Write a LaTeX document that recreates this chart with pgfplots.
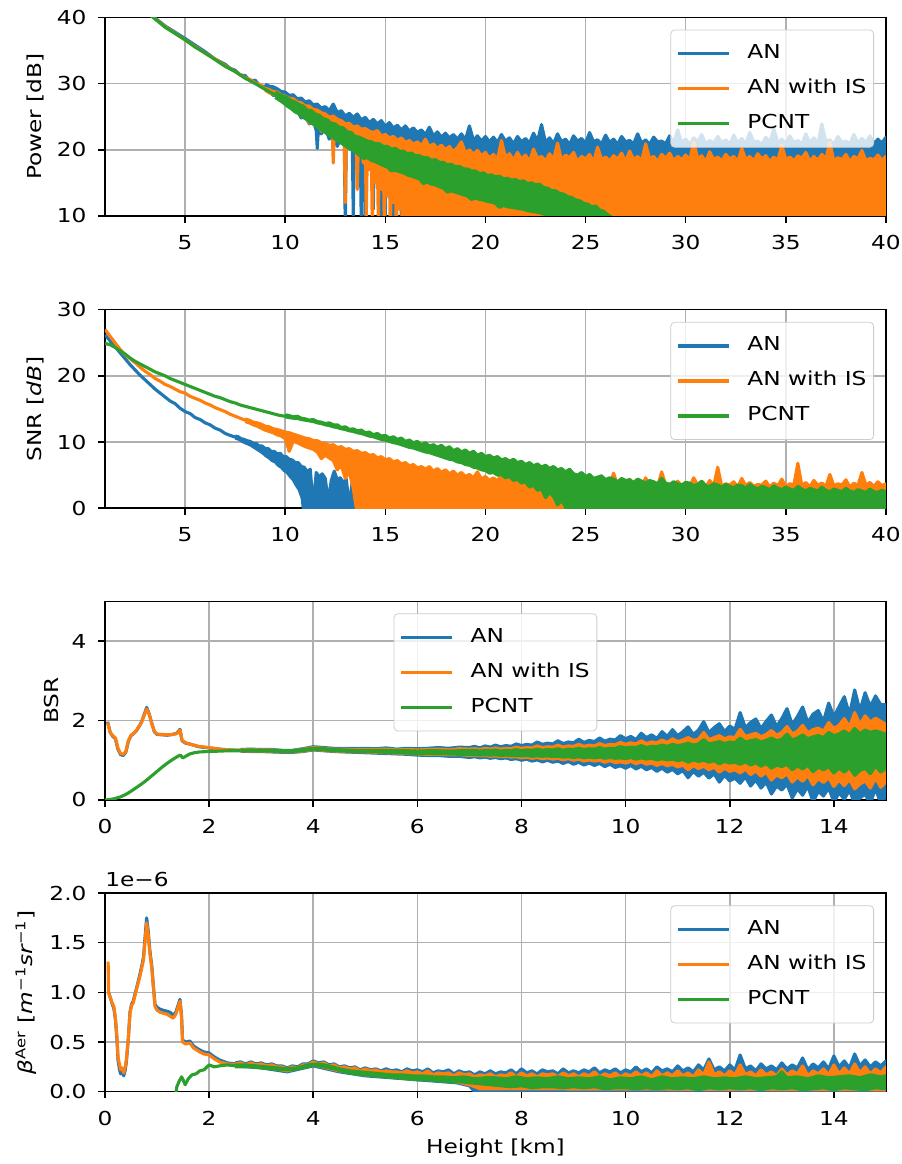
\documentclass[border=0pt]{standalone}
\usepackage{fontspec}
\setmainfont{DejaVu Sans}[FakeStretch=1.21]
\newfontface\itf{DejaVu Sans Oblique}[FakeStretch=1.21]
\usepackage{pgfplots}
\pgfplotsset{compat=1.18}
\definecolor{c0}{HTML}{1F77B4}
\definecolor{c1}{HTML}{FF7F0E}
\definecolor{c2}{HTML}{2CA02C}
\definecolor{gridc}{HTML}{B0B0B0}
\pgfplotsset{
  legend image code/.code={\draw[#1] (0pt,0pt) -- (26.5pt,0pt);},
  pb/.style={c0, line width=1.62pt, line join=round},
  po/.style={c1, line width=1.62pt, line join=round},
  pg/.style={c2, line width=1.62pt, line join=round},
  bb/.style={c0, fill=c0, line width=1.62pt, line join=round, forget plot},
  bo/.style={c1, fill=c1, line width=1.62pt, line join=round, forget plot},
  bg/.style={c2, fill=c2, line width=1.62pt, line join=round, forget plot},
  mpl/.style={
    scale only axis, width=406.1pt, height=103.3pt,
    anchor=south west, enlargelimits=false, clip=true,
    axis line style={black, line width=0.8pt},
    tick align=outside, xtick pos=left, ytick pos=left,
    major tick length=3.5pt,
    every tick/.style={black, line width=0.8pt},
    grid=major, major grid style={gridc, line width=0.8pt},
    /pgf/number format/assume math mode=true,
    ticklabel style={font=\normalsize},
    xticklabel style={yshift=-3pt},
    yticklabel style={xshift=-2.6pt},
    scaled ticks=false,
    legend cell align=left,
    legend style={draw=black!20, fill=white, fill opacity=0.8, text opacity=1, draw opacity=1,
      rounded corners=2pt, inner xsep=2.7pt, inner ysep=4pt, row sep=1.6pt, column sep=8pt,
      nodes={inner xsep=1pt, inner ysep=3.3pt, text height=7.6pt, text depth=2.4pt}},
  },
  tr/.style={legend style={at={(rel axis cs:1,1)}, anchor=north east, xshift=-6.2pt, yshift=-6.4pt}},
}
\begin{document}
\begin{tikzpicture}
\useasboundingbox (0,0) rectangle (469pt,-605.3pt);

% ---------------- Power
\begin{axis}[mpl, tr, at={(54.6pt,-112.3pt)}, xmin=1, xmax=40, ymin=10, ymax=40,
  xtick={5,10,...,40}, ytick={10,20,30,40}, ylabel={Power [dB]}]
\addplot[pb] table[row sep=\\] {x y\\1 47.2\\2 44.1\\3 41.1\\4 38.7\\5 36.8\\5.5 35.8\\6 34.8\\6.5 33.7\\7 32.9\\7.25 32.3\\7.5 32.0\\7.75 31.3\\8 31.2\\8.25 30.4\\8.5 30.5\\8.75 29.6\\9 29.6\\};
\addlegendentry{AN}
\addplot[bb] table[row sep=\\] {x y\\9.0 29.9\\9.2 29.6\\9.4 29.5\\9.6 29.2\\9.8 28.8\\10.0 28.7\\10.2 28.2\\10.4 28.3\\10.6 27.7\\10.8 27.8\\11.0 27.2\\11.2 27.4\\11.4 26.8\\11.6 26.9\\11.8 26.3\\12.0 26.5\\12.2 25.9\\12.4 26.9\\12.6 25.6\\12.8 25.9\\13.0 25.1\\13.2 25.5\\13.4 24.9\\13.6 25.4\\13.8 24.5\\14.0 24.9\\14.2 24.1\\14.4 24.6\\14.6 23.9\\14.8 24.4\\15.0 23.5\\15.2 24.1\\15.4 23.3\\15.6 23.7\\15.8 23.0\\16.0 23.6\\16.2 22.8\\16.4 23.3\\16.6 22.6\\16.8 23.0\\17.0 22.3\\17.2 23.4\\17.4 22.1\\17.6 22.7\\17.8 21.9\\18.0 22.5\\18.2 21.8\\18.4 22.3\\18.6 21.6\\18.8 22.4\\19.0 21.5\\19.2 23.6\\19.4 21.4\\19.6 22.1\\19.8 21.3\\20.0 22.0\\20.2 21.2\\20.4 21.9\\20.6 21.1\\20.8 22.3\\21.0 21.3\\21.2 21.8\\21.4 20.9\\21.6 22.0\\21.8 21.2\\22.0 21.7\\22.2 21.0\\22.4 22.5\\22.6 21.3\\22.8 23.8\\23.0 21.1\\23.2 21.8\\23.4 20.9\\23.6 22.4\\23.8 21.2\\24.0 21.6\\24.2 20.8\\24.4 22.1\\24.6 21.3\\24.8 21.7\\25.0 21.0\\25.2 22.6\\25.4 21.2\\25.6 21.5\\25.8 20.9\\26.0 22.2\\26.2 21.1\\26.4 21.6\\26.6 20.8\\26.8 22.0\\27.0 21.2\\27.2 21.4\\27.4 20.9\\27.6 22.4\\27.8 21.0\\28.0 21.5\\28.2 20.8\\28.4 21.9\\28.6 21.2\\28.8 21.3\\29.0 20.9\\29.2 22.1\\29.4 21.0\\29.6 23.0\\29.8 21.1\\30.0 21.6\\30.2 20.8\\30.4 21.8\\30.6 21.2\\30.8 22.3\\31.0 20.9\\31.2 21.4\\31.4 21.0\\31.6 22.0\\31.8 21.1\\32.0 21.5\\32.2 20.8\\32.4 22.2\\32.6 21.0\\32.8 21.7\\33.0 20.9\\33.2 22.6\\33.4 21.2\\33.6 21.3\\33.8 20.8\\34.0 21.9\\34.2 21.1\\34.4 23.2\\34.6 21.0\\34.8 21.6\\35.0 20.9\\35.2 22.1\\35.4 21.1\\35.6 21.4\\35.8 20.8\\36.0 22.4\\36.2 21.0\\36.4 21.8\\36.6 20.9\\36.8 23.9\\37.0 21.2\\37.2 21.5\\37.4 20.8\\37.6 22.0\\37.8 21.1\\38.0 21.3\\38.2 20.9\\38.4 22.3\\38.6 21.0\\38.8 21.7\\39.0 21.1\\39.2 22.1\\39.4 20.9\\39.6 21.6\\39.8 21.0\\40.0 21.9\\
40.0 17\\20.2 17\\20.0 17.5\\19.8 18.0\\19.6 17.2\\19.45 17.6\\19.4 15.0\\19.35 17.6\\19.2 18.3\\19.0 16.8\\18.85 17.5\\18.8 12.0\\18.75 17.5\\18.6 17.9\\18.4 17.5\\18.25 17.6\\18.2 15.0\\18.15 17.6\\18.0 18.2\\17.85 17.8\\17.8 8.0\\17.75 17.8\\17.6 17.4\\17.45 17.5\\17.4 12.0\\17.35 17.6\\17.2 18.0\\17.05 18.0\\17.0 9.0\\16.95 18.0\\16.8 18.5\\16.65 18.2\\16.6 11.0\\16.55 18.2\\16.4 18.2\\16.25 18.4\\16.2 8.0\\16.15 18.4\\16.0 17.9\\15.85 18.0\\15.8 9.5\\15.75 18.0\\15.6 18.6\\15.45 18.8\\15.4 8.0\\15.35 18.8\\15.2 18.9\\15.05 19.0\\15.0 10.0\\14.95 19.0\\14.85 19.2\\14.8 9.0\\14.75 19.2\\14.6 19.4\\14.45 19.6\\14.4 11.0\\14.35 19.6\\14.2 19.8\\14.05 19.9\\14.0 9.5\\13.95 20.0\\13.85 20.2\\13.8 8.5\\13.75 20.2\\13.6 20.6\\13.45 20.8\\13.4 10.0\\13.35 20.9\\13.2 21.2\\13.05 21.4\\13.0 8.0\\12.95 21.5\\12.8 22.0\\12.6 20.5\\12.4 22.6\\12.2 21.6\\12.0 23.4\\11.8 22.4\\11.65 22.8\\11.6 20.2\\11.55 22.9\\11.4 24.4\\11.2 23.9\\11.0 25.2\\10.8 24.8\\10.6 25.9\\10.4 26.2\\10.2 26.8\\10.0 27.4\\9.8 27.6\\9.6 28.3\\9.4 28.2\\9.2 28.9\\9.0 29.3\\};
\addplot[po] table[row sep=\\] {x y\\1 47.0\\2 44.0\\3 41.0\\4 38.6\\5 36.6\\5.5 35.6\\6 34.6\\6.5 33.7\\7 32.7\\7.5 31.8\\8 30.9\\8.25 30.6\\8.5 30.1\\8.75 29.8\\9 29.2\\};
\addlegendentry{AN with IS}
\addplot[bo] table[row sep=\\] {x y\\9.0 29.3\\9.2 29.1\\9.4 28.8\\9.6 28.7\\9.8 28.3\\10.0 28.1\\10.2 27.8\\10.4 27.7\\10.6 27.2\\10.8 27.1\\11.0 26.6\\11.2 26.6\\11.4 26.1\\11.6 26.0\\11.8 25.6\\12.0 25.4\\12.2 24.9\\12.4 25.1\\12.6 24.6\\12.8 24.4\\13.0 23.9\\13.2 24.0\\13.4 23.4\\13.6 23.6\\13.8 23.1\\14.0 23.2\\14.2 22.8\\14.4 22.6\\14.6 22.9\\14.8 22.1\\15.0 22.3\\15.2 21.8\\15.4 22.0\\15.6 21.4\\15.8 21.8\\16.0 21.1\\16.2 21.4\\16.4 20.8\\16.6 21.2\\16.8 20.6\\17.0 21.6\\17.2 20.4\\17.4 20.9\\17.6 20.2\\17.8 20.7\\18.0 20.0\\18.2 20.5\\18.4 19.7\\18.6 20.3\\18.8 21.2\\19.0 19.5\\19.2 20.0\\19.4 19.3\\19.6 19.9\\19.8 19.1\\20.0 19.6\\20.2 18.7\\20.4 19.3\\20.6 18.5\\20.8 21.4\\21.0 18.8\\21.2 19.4\\21.4 18.4\\21.6 19.6\\21.8 18.6\\22.0 19.2\\22.2 18.2\\22.4 20.1\\22.6 18.7\\22.8 19.0\\23.0 18.3\\23.2 19.4\\23.4 18.5\\23.6 21.0\\23.8 18.4\\24.0 19.2\\24.2 18.8\\24.4 19.6\\24.6 18.2\\24.8 19.0\\25.0 18.6\\25.2 19.3\\25.4 18.1\\25.6 20.4\\25.8 18.5\\26.0 18.9\\26.2 18.3\\26.4 19.1\\26.6 18.6\\26.8 19.5\\27.0 18.2\\27.2 19.8\\27.4 18.5\\27.6 19.0\\27.8 18.3\\28.0 20.9\\28.2 18.6\\28.4 19.0\\28.6 18.2\\28.8 19.3\\29.0 18.7\\29.2 19.5\\29.4 18.3\\29.6 19.0\\29.8 18.5\\30.0 19.2\\30.2 18.4\\30.4 21.2\\30.6 18.6\\30.8 19.1\\31.0 18.2\\31.2 19.7\\31.4 18.5\\31.6 18.9\\31.8 18.3\\32.0 19.3\\32.2 18.6\\32.4 19.0\\32.6 18.2\\32.8 20.2\\33.0 18.5\\33.2 19.0\\33.4 18.3\\33.6 19.4\\33.8 18.6\\34.0 19.1\\34.2 18.2\\34.4 18.9\\34.6 18.4\\34.8 20.7\\35.0 18.5\\35.2 18.9\\35.4 18.3\\35.6 19.1\\35.8 18.7\\36.0 19.6\\36.2 18.2\\36.4 19.0\\36.6 18.4\\36.8 19.3\\37.0 18.6\\37.2 21.1\\37.4 18.3\\37.6 18.8\\37.8 18.5\\38.0 19.3\\38.2 18.2\\38.4 19.0\\38.6 18.6\\38.8 19.9\\39.0 18.3\\39.2 18.7\\39.4 18.5\\39.6 19.2\\39.8 18.4\\40.0 19.0\\
40.0 -10\\17.2 -10\\17.0 6.0\\16.9 8.0\\16.8 12.5\\16.75 5.0\\16.7 13.0\\16.6 9.0\\16.5 14.5\\16.45 6.0\\16.4 14.0\\16.3 8.0\\16.2 15.0\\16.15 7.0\\16.1 15.5\\16.0 9.0\\15.9 16.0\\15.85 6.0\\15.8 15.5\\15.7 11.0\\15.6 16.5\\15.55 6.0\\15.5 16.8\\15.4 12.0\\15.3 17.2\\15.25 7.0\\15.2 17.5\\15.1 13.0\\15.0 18.0\\14.95 8.0\\14.9 18.2\\14.8 14.0\\14.7 18.6\\14.65 9.0\\14.6 18.8\\14.5 15.0\\14.4 19.2\\14.35 8.0\\14.3 19.3\\14.2 17.0\\14.1 19.6\\14.05 10.0\\14.0 19.8\\13.9 18.0\\13.8 20.2\\13.65 20.6\\13.6 14.0\\13.55 20.6\\13.4 20.8\\13.2 21.3\\13.05 21.6\\13.0 12.0\\12.95 21.6\\12.8 22.0\\12.6 21.5\\12.45 22.6\\12.4 18.0\\12.35 22.6\\12.2 23.2\\12.0 23.6\\11.8 22.8\\11.6 24.5\\11.4 24.8\\11.2 24.0\\11.0 25.6\\10.8 25.8\\10.6 26.2\\10.4 26.4\\10.2 27.0\\10.0 27.2\\9.8 27.6\\9.6 28.2\\9.4 28.4\\9.2 28.6\\9.0 29.0\\};
\addplot[pg] table[row sep=\\] {x y\\1 47.0\\2 44.0\\3 41.0\\4 38.5\\5 36.6\\5.5 35.5\\6 34.6\\6.5 33.6\\7 32.6\\7.5 31.8\\8 30.8\\8.5 30.0\\9 29.1\\9.5 28.3\\};
\addlegendentry{PCNT}
\addplot[bg] table[row sep=\\] {x y\\9.5 28.7\\9.7 28.4\\9.9 28.1\\10.1 27.9\\10.3 27.4\\10.5 27.2\\10.7 26.8\\10.9 26.6\\11.1 26.0\\11.3 25.9\\11.5 25.4\\11.7 25.2\\11.9 24.7\\12.1 24.5\\12.3 24.0\\12.5 23.9\\12.7 23.4\\12.9 23.3\\13.1 22.7\\13.3 22.6\\13.5 22.0\\13.7 21.9\\13.9 21.6\\14.1 21.3\\14.3 21.2\\14.5 20.9\\14.7 20.9\\14.9 20.5\\15.1 20.5\\15.3 20.1\\15.5 20.2\\15.7 19.8\\15.9 19.8\\16.1 19.4\\16.3 19.5\\16.5 19.1\\16.7 19.1\\16.9 18.8\\17.1 18.8\\17.3 18.4\\17.5 18.5\\17.7 18.1\\17.9 18.1\\18.1 17.7\\18.3 17.8\\18.5 17.4\\18.7 17.5\\18.9 17.1\\19.1 17.1\\19.3 16.8\\19.5 16.8\\19.7 16.4\\19.9 16.5\\20.1 16.1\\20.3 16.2\\20.5 15.9\\20.7 16.0\\20.9 15.6\\21.1 15.7\\21.3 15.4\\21.5 15.5\\21.7 15.2\\21.9 15.3\\22.1 14.9\\22.3 15.0\\22.5 14.7\\22.7 14.8\\22.9 14.3\\23.1 14.2\\23.3 13.8\\23.5 13.8\\23.7 13.4\\23.9 13.3\\24.1 12.9\\24.3 12.8\\24.5 12.4\\24.7 12.3\\24.9 11.9\\25.1 11.8\\25.3 11.4\\25.5 11.5\\25.7 10.9\\25.9 10.7\\26.1 10.2\\26.3 9.8\\26.5 9.0\\
26.5 7.0\\26.1 7.5\\25.7 8.0\\25.3 8.5\\24.9 9.1\\24.7 9.2\\24.5 9.4\\24.3 9.5\\24.1 9.6\\23.9 9.7\\23.7 9.9\\23.5 10.0\\23.3 10.1\\23.1 10.2\\22.9 10.3\\22.7 10.5\\22.5 10.6\\22.3 10.7\\22.1 10.8\\21.9 11.0\\21.7 11.1\\21.5 11.2\\21.3 11.3\\21.1 11.4\\20.9 11.6\\20.7 11.3\\20.5 11.9\\20.3 12.1\\20.1 12.2\\19.9 12.4\\19.7 12.5\\19.5 12.7\\19.3 12.5\\19.1 13.0\\18.9 13.2\\18.7 13.4\\18.5 13.6\\18.3 13.8\\18.1 13.6\\17.9 14.2\\17.7 14.4\\17.5 14.7\\17.3 14.8\\17.1 15.1\\16.9 14.9\\16.7 15.6\\16.5 15.8\\16.3 16.0\\16.1 16.2\\15.9 16.5\\15.7 16.7\\15.5 16.9\\15.3 16.8\\15.1 17.4\\14.9 17.6\\14.7 17.9\\14.5 18.2\\14.3 18.4\\14.1 18.8\\13.9 18.7\\13.7 19.2\\13.5 19.7\\13.3 20.0\\13.1 20.4\\12.9 20.8\\12.7 21.2\\12.5 21.6\\12.3 22.0\\12.1 22.4\\11.9 22.8\\11.7 23.2\\11.5 23.7\\11.3 24.0\\11.1 24.5\\10.9 24.9\\10.7 25.4\\10.5 25.7\\10.3 26.2\\10.1 26.6\\9.9 27.1\\9.7 27.5\\9.5 27.9\\};
\end{axis}

% ---------------- SNR
\begin{axis}[mpl, tr, at={(54.6pt,-264.3pt)}, xmin=1, xmax=40, ymin=0, ymax=30,
  xtick={5,10,...,40}, ytick={0,10,20,30}, ylabel={SNR [{\itf dB}]}]
\addplot[pb] table[row sep=\\] {x y\\1.0 26.2\\1.25 25.3\\1.5 24.4\\1.75 23.5\\2.0 22.6\\2.25 21.7\\2.5 20.9\\2.75 20.1\\3.0 19.4\\3.25 18.7\\3.5 18.0\\3.75 17.4\\4.0 16.8\\4.25 16.2\\4.5 15.8\\4.75 15.1\\5.0 14.6\\5.25 14.3\\5.5 13.7\\5.75 13.4\\6.0 12.9\\6.25 12.6\\6.5 12.1\\6.75 11.8\\7.0 11.3\\7.25 11.0\\7.5 10.75\\};
\addlegendentry{AN}
\addplot[bb] table[row sep=\\] {x y\\7.5 10.9\\7.65 10.8\\7.8 10.5\\7.95 10.4\\8.1 10.2\\8.25 10.1\\8.4 9.8\\8.55 9.8\\8.7 9.4\\8.85 9.4\\9.0 9.0\\9.15 9.0\\9.3 8.6\\9.45 8.6\\9.6 8.2\\9.75 8.3\\9.9 7.8\\10.05 7.8\\10.2 7.4\\10.35 7.3\\10.5 6.9\\10.65 6.9\\10.8 6.3\\10.95 6.2\\11.1 5.5\\11.25 5.9\\11.4 0.4\\11.55 5.4\\11.7 4.7\\11.85 5.2\\12.0 4.5\\12.15 1.0\\12.3 4.2\\12.45 5.6\\12.6 4.3\\12.75 4.6\\12.9 3.9\\13.05 4.4\\13.2 0.3\\13.35 4.1\\13.5 3.4\\13.65 3.8\\13.8 0.0\\13.95 3.5\\14.1 2.9\\14.25 3.3\\14.4 2.8\\14.55 3.1\\14.7 2.5\\14.85 3.0\\15.0 2.3\\15.15 2.7\\15.3 2.0\\15.45 2.4\\15.6 1.6\\15.75 2.0\\15.9 1.2\\16.05 1.4\\16.2 0.5\\16.3 -1\\
16.3 -3\\11.0 -3\\10.85 1.5\\10.7 2.8\\10.55 3.5\\10.4 4.3\\10.25 4.8\\10.1 5.4\\9.95 5.7\\9.8 6.2\\9.65 6.5\\9.5 7.0\\9.35 7.2\\9.2 7.6\\9.05 7.9\\8.9 8.3\\8.75 8.6\\8.6 8.9\\8.45 9.2\\8.3 9.5\\8.15 9.7\\8.0 9.9\\7.85 10.1\\7.7 10.4\\7.5 10.6\\};
\addplot[po] table[row sep=\\] {x y\\1.0 27.0\\1.25 26.0\\1.5 25.0\\1.75 24.0\\2.0 23.2\\2.25 22.6\\2.5 22.0\\2.75 21.3\\3.0 20.7\\3.25 20.2\\3.5 19.6\\3.75 19.2\\4.0 18.7\\4.25 18.4\\4.5 18.0\\4.75 17.6\\5.0 17.4\\5.25 16.9\\5.5 16.6\\5.75 16.3\\6.0 15.9\\6.25 15.6\\6.5 15.2\\6.75 14.9\\7.0 14.6\\7.25 14.2\\7.5 13.9\\7.75 13.6\\8.0 13.3\\};
\addlegendentry{AN with IS}
\addplot[bo] table[row sep=\\] {x y\\8.0 13.5\\8.2 13.3\\8.4 13.0\\8.6 12.9\\8.8 12.7\\9.0 12.4\\9.2 12.3\\9.4 12.0\\9.6 11.9\\9.8 11.7\\10.0 11.5\\10.2 11.4\\10.4 11.2\\10.6 11.0\\10.8 10.8\\11.0 10.6\\11.2 10.5\\11.4 10.2\\11.6 10.2\\11.8 9.9\\12.0 9.8\\12.2 9.5\\12.4 9.6\\12.6 9.2\\12.8 9.3\\13.0 8.9\\13.2 9.0\\13.4 8.6\\13.6 8.7\\13.8 8.3\\14.0 8.4\\14.2 8.0\\14.4 8.1\\14.6 7.6\\14.8 7.8\\15.0 7.3\\15.2 7.5\\15.4 7.0\\15.6 7.2\\15.8 6.7\\16.0 6.9\\16.2 6.4\\16.4 6.6\\16.6 6.1\\16.8 6.3\\17.0 5.9\\17.2 6.3\\17.4 5.6\\17.6 6.0\\17.8 5.4\\18.0 5.8\\18.2 5.2\\18.4 5.6\\18.6 5.0\\18.8 5.4\\19.0 4.8\\19.2 5.1\\19.4 4.6\\19.6 5.5\\19.8 4.4\\20.0 4.8\\20.2 4.2\\20.4 4.6\\20.6 4.1\\20.8 5.2\\21.0 4.0\\21.2 4.4\\21.4 3.9\\21.6 4.3\\21.8 3.8\\22.0 4.5\\22.2 3.8\\22.4 4.1\\22.6 3.7\\22.8 5.0\\23.0 3.7\\23.2 4.2\\23.4 3.6\\23.6 4.0\\23.8 3.5\\24.0 4.6\\24.2 3.6\\24.4 3.9\\24.6 3.4\\24.8 4.8\\25.0 3.6\\25.2 4.0\\25.4 3.4\\25.6 3.8\\25.8 3.3\\26.0 4.2\\26.2 3.5\\26.4 5.3\\26.6 3.4\\26.8 3.9\\27.0 3.3\\27.2 4.4\\27.4 3.5\\27.6 3.8\\27.8 3.2\\28.0 4.6\\28.2 3.4\\28.4 3.9\\28.6 3.3\\28.8 5.5\\29.0 3.5\\29.2 3.7\\29.4 3.2\\29.6 4.1\\29.8 3.4\\30.0 3.9\\30.2 3.3\\30.4 4.6\\30.6 3.5\\30.8 3.8\\31.0 3.2\\31.2 4.2\\31.4 3.4\\31.6 6.2\\31.8 3.3\\32.0 3.7\\32.2 3.5\\32.4 4.0\\32.6 3.2\\32.8 4.5\\33.0 3.4\\33.2 3.9\\33.4 3.3\\33.6 3.6\\33.8 3.5\\34.0 4.1\\34.2 3.2\\34.4 3.8\\34.6 3.4\\34.8 4.4\\35.0 3.3\\35.2 3.7\\35.4 3.5\\35.6 6.8\\35.8 3.4\\36.0 3.9\\36.2 3.2\\36.4 4.2\\36.6 3.5\\36.8 3.8\\37.0 3.3\\37.2 5.1\\37.4 3.4\\37.6 3.7\\37.8 3.5\\38.0 4.3\\38.2 3.2\\38.4 3.8\\38.6 3.4\\38.8 5.4\\39.0 3.5\\39.2 3.9\\39.4 3.3\\39.6 4.0\\39.8 3.4\\40.0 3.7\\
40.0 -5\\14.0 -5\\13.8 0.5\\13.6 -1\\13.4 3.0\\13.2 5.5\\13.0 4.5\\12.8 6.5\\12.6 5.8\\12.4 7.2\\12.2 7.6\\12.0 8.0\\11.8 7.5\\11.6 8.5\\11.4 8.9\\11.2 9.1\\11.0 9.3\\10.8 9.6\\10.6 9.9\\10.4 10.1\\10.2 8.6\\10.0 10.5\\9.8 10.9\\9.6 11.1\\9.4 11.4\\9.2 11.6\\9.0 11.8\\8.8 12.1\\8.6 12.4\\8.4 12.6\\8.2 12.9\\8.0 13.1\\};
\addplot[pg] table[row sep=\\] {x y\\1.0 24.9\\1.25 24.7\\1.5 24.3\\1.75 23.8\\2.0 23.3\\2.25 22.7\\2.5 22.2\\2.75 21.8\\3.0 21.4\\3.25 21.0\\3.5 20.6\\3.75 20.3\\4.0 20.0\\4.25 19.6\\4.5 19.3\\4.75 19.0\\5.0 18.7\\5.25 18.4\\5.5 18.1\\5.75 17.8\\6.0 17.5\\6.25 17.2\\6.5 16.9\\6.75 16.7\\7.0 16.4\\7.25 16.1\\7.5 15.9\\7.75 15.6\\8.0 15.4\\8.25 15.2\\8.5 15.0\\8.75 14.8\\9.0 14.6\\9.25 14.4\\9.5 14.2\\9.75 14.0\\10.0 13.9\\};
\addlegendentry{PCNT}
\addplot[bg] table[row sep=\\] {x y\\10.0 14.1\\10.2 14.0\\10.4 13.8\\10.6 13.9\\10.8 13.6\\11.0 13.5\\11.2 13.3\\11.4 13.4\\11.6 13.1\\11.8 13.0\\12.0 12.8\\12.2 12.9\\12.4 12.6\\12.6 12.6\\12.8 12.2\\13.0 12.3\\13.2 11.9\\13.4 12.0\\13.6 11.7\\13.8 11.8\\14.0 11.4\\14.2 11.5\\14.4 11.1\\14.6 11.3\\14.8 10.9\\15.0 11.0\\15.2 10.6\\15.4 10.8\\15.6 10.4\\15.8 10.6\\16.0 10.1\\16.2 10.3\\16.4 9.9\\16.6 10.1\\16.8 9.6\\17.0 9.9\\17.2 9.4\\17.4 9.6\\17.6 9.2\\17.8 9.5\\18.0 9.0\\18.2 9.3\\18.4 8.7\\18.6 9.0\\18.8 8.5\\19.0 8.8\\19.2 8.3\\19.4 8.6\\19.6 8.0\\19.8 8.3\\20.0 7.8\\20.2 8.0\\20.4 7.6\\20.6 7.8\\20.8 7.3\\21.0 7.5\\21.2 7.1\\21.4 7.4\\21.6 6.9\\21.8 7.1\\22.0 6.6\\22.2 6.9\\22.4 6.4\\22.6 6.7\\22.8 6.2\\23.0 6.5\\23.2 6.0\\23.4 6.3\\23.6 5.8\\23.8 6.0\\24.0 5.5\\24.2 5.9\\24.4 5.2\\24.6 5.0\\24.8 5.4\\25.0 4.8\\25.2 5.1\\25.4 4.5\\25.6 4.7\\25.8 4.9\\26.0 4.3\\26.2 4.6\\26.4 4.4\\26.6 4.0\\26.8 4.5\\27.0 4.2\\27.2 4.3\\27.4 3.9\\27.6 4.4\\27.8 4.1\\28.0 3.8\\28.2 4.2\\28.4 4.0\\28.6 3.7\\28.8 4.5\\29.0 3.8\\29.2 3.6\\29.4 4.0\\29.6 3.7\\29.8 3.5\\30.0 3.9\\30.2 3.8\\30.4 3.4\\30.6 3.6\\30.8 4.1\\31.0 3.4\\31.2 3.3\\31.4 3.7\\31.6 3.5\\31.8 3.2\\32.0 3.6\\32.2 3.3\\32.4 3.1\\32.6 3.5\\32.8 3.4\\33.0 3.0\\33.2 3.6\\33.4 3.2\\33.6 2.9\\33.8 3.3\\34.0 3.1\\34.2 2.8\\34.4 3.4\\34.6 3.0\\34.8 2.8\\35.0 3.2\\35.2 2.9\\35.4 2.7\\35.6 3.3\\35.8 2.9\\36.0 2.6\\36.2 3.0\\36.4 2.8\\36.6 2.6\\36.8 3.2\\37.0 2.7\\37.2 2.5\\37.4 2.9\\37.6 2.7\\37.8 2.5\\38.0 3.0\\38.2 2.6\\38.4 2.4\\38.6 2.8\\38.8 2.6\\39.0 2.4\\39.2 2.9\\39.4 2.5\\39.6 2.4\\39.8 2.7\\40.0 2.5\\
40.0 -5\\24.2 -5\\24.0 0.2\\23.8 1.2\\23.6 0.5\\23.4 1.8\\23.2 2.4\\23.0 1.6\\22.8 3.0\\22.6 2.7\\22.4 3.5\\22.2 3.2\\22.0 4.0\\21.8 3.8\\21.6 4.4\\21.4 4.2\\21.2 4.8\\21.0 4.6\\20.8 5.1\\20.6 5.0\\20.4 5.4\\20.2 5.3\\20.0 5.7\\19.8 5.8\\19.6 6.1\\19.4 6.2\\19.2 6.5\\19.0 6.6\\18.8 6.9\\18.6 7.0\\18.4 7.3\\18.2 7.4\\18.0 7.6\\17.8 7.8\\17.6 8.0\\17.4 8.2\\17.2 8.4\\17.0 8.5\\16.8 8.7\\16.6 8.9\\16.4 9.1\\16.2 9.2\\16.0 9.4\\15.8 9.6\\15.6 9.8\\15.4 9.9\\15.2 10.1\\15.0 10.3\\14.8 10.4\\14.6 10.6\\14.4 10.8\\14.2 10.9\\14.0 11.1\\13.8 11.3\\13.6 11.4\\13.4 11.6\\13.2 11.7\\13.0 11.9\\12.8 12.0\\12.6 12.2\\12.4 12.3\\12.2 12.5\\12.0 12.6\\11.8 12.8\\11.6 12.9\\11.4 13.1\\11.2 13.2\\11.0 13.3\\10.8 13.4\\10.6 13.6\\10.4 13.6\\10.2 13.7\\10.0 13.8\\};
\end{axis}

% ---------------- BSR
\begin{axis}[mpl, at={(54.6pt,-416pt)}, xmin=0, xmax=15, ymin=0, ymax=5,
  xtick={0,2,...,14}, ytick={0,2,4}, ylabel={BSR},
  legend style={at={(rel axis cs:0.5,1)}, anchor=north, yshift=-6.2pt}]
\addplot[pb] table[row sep=\\] {x y\\0.05 1.97\\0.1 1.70\\0.15 1.60\\0.2 1.54\\0.25 1.27\\0.3 1.14\\0.35 1.12\\0.4 1.20\\0.45 1.48\\0.5 1.62\\0.55 1.67\\0.6 1.74\\0.65 1.84\\0.7 1.96\\0.75 2.14\\0.8 2.33\\0.85 2.16\\0.9 1.92\\0.95 1.71\\1.0 1.65\\1.1 1.64\\1.2 1.63\\1.3 1.65\\1.38 1.68\\1.44 1.78\\1.48 1.49\\1.55 1.43\\1.65 1.40\\1.8 1.34\\2.0 1.31\\2.2 1.28\\2.4 1.26\\2.6 1.25\\};
\addlegendentry{AN}
\addplot[bb] table[row sep=\\] {x y\\2.6 1.27\\2.8 1.28\\3.0 1.27\\3.2 1.27\\3.4 1.25\\3.6 1.25\\3.8 1.29\\4.0 1.34\\4.2 1.32\\4.4 1.30\\4.6 1.30\\4.8 1.30\\5.0 1.30\\5.2 1.29\\5.4 1.31\\5.6 1.28\\5.8 1.30\\6.0 1.29\\6.2 1.30\\6.4 1.32\\6.6 1.30\\6.8 1.33\\7.0 1.32\\7.1 1.35\\7.2 1.31\\7.3 1.36\\7.4 1.33\\7.5 1.38\\7.6 1.34\\7.7 1.37\\7.8 1.35\\7.9 1.41\\8.0 1.37\\8.1 1.40\\8.2 1.38\\8.3 1.46\\8.4 1.40\\8.5 1.43\\8.6 1.41\\8.7 1.49\\8.8 1.42\\8.9 1.46\\9.0 1.44\\9.1 1.53\\9.2 1.45\\9.3 1.50\\9.4 1.47\\9.5 1.56\\9.6 1.48\\9.7 1.53\\9.8 1.51\\9.9 1.62\\10.0 1.54\\10.1 1.60\\10.2 1.52\\10.3 1.68\\10.4 1.57\\10.5 1.64\\10.6 1.55\\10.7 1.72\\10.8 1.60\\10.9 1.77\\11.0 1.62\\11.1 1.72\\11.2 1.84\\11.3 1.65\\11.4 1.76\\11.5 1.97\\11.6 1.70\\11.7 1.82\\11.8 1.92\\11.9 1.72\\12.0 1.86\\12.1 1.78\\12.2 2.20\\12.3 1.82\\12.4 1.95\\12.5 2.04\\12.6 1.80\\12.7 1.98\\12.8 2.14\\12.9 1.85\\13.0 2.05\\13.1 2.30\\13.2 1.90\\13.3 2.10\\13.4 2.34\\13.5 1.95\\13.6 2.16\\13.7 2.25\\13.8 1.98\\13.9 2.44\\14.0 2.10\\14.1 2.35\\14.2 2.60\\14.3 2.15\\14.4 2.77\\14.5 2.25\\14.6 2.70\\14.7 2.35\\14.8 2.62\\14.9 2.40\\15.0 2.40\\
15.0 0.10\\14.9 -0.1\\14.8 0.30\\14.7 -0.1\\14.6 0.15\\14.5 0.05\\14.4 -0.1\\14.3 0.25\\14.2 0.02\\14.1 0.18\\14.0 -0.05\\13.9 0.30\\13.8 0.10\\13.7 0.22\\13.6 -0.05\\13.5 0.35\\13.4 0.12\\13.3 0.28\\13.2 0.05\\13.1 0.40\\13.0 0.25\\12.9 0.35\\12.8 0.15\\12.7 0.45\\12.6 0.30\\12.5 0.50\\12.4 0.35\\12.3 0.58\\12.2 0.42\\12.1 0.55\\12.0 0.48\\11.9 0.62\\11.8 0.45\\11.7 0.66\\11.6 0.55\\11.5 0.70\\11.4 0.60\\11.3 0.72\\11.2 0.56\\11.1 0.74\\11.0 0.66\\10.9 0.77\\10.8 0.70\\10.7 0.80\\10.6 0.72\\10.5 0.82\\10.4 0.76\\10.3 0.85\\10.2 0.78\\10.1 0.87\\10.0 0.80\\9.9 0.86\\9.8 0.82\\9.7 0.90\\9.6 0.84\\9.5 0.92\\9.4 0.87\\9.3 0.93\\9.2 0.88\\9.1 0.95\\9.0 0.90\\8.9 0.97\\8.8 0.92\\8.7 0.98\\8.6 0.95\\8.5 1.00\\8.4 0.96\\8.3 1.01\\8.2 0.98\\8.1 1.03\\8.0 1.00\\7.9 1.04\\7.8 1.02\\7.7 1.06\\7.6 1.04\\7.5 1.07\\7.4 1.05\\7.3 1.08\\7.2 1.06\\7.1 1.09\\7.0 1.07\\6.8 1.10\\6.6 1.10\\6.4 1.12\\6.2 1.12\\6.0 1.13\\5.8 1.15\\5.6 1.16\\5.4 1.17\\5.2 1.18\\5.0 1.19\\4.8 1.20\\4.6 1.21\\4.4 1.22\\4.2 1.24\\4.0 1.26\\3.8 1.22\\3.6 1.20\\3.4 1.20\\3.2 1.21\\3.0 1.22\\2.8 1.22\\2.6 1.23\\};
\addplot[po] table[row sep=\\] {x y\\0.05 1.95\\0.1 1.70\\0.15 1.62\\0.2 1.56\\0.25 1.30\\0.3 1.17\\0.35 1.15\\0.4 1.22\\0.45 1.50\\0.5 1.63\\0.55 1.68\\0.6 1.74\\0.65 1.85\\0.7 1.95\\0.75 2.12\\0.8 2.29\\0.85 2.15\\0.9 1.92\\0.95 1.72\\1.0 1.66\\1.1 1.65\\1.2 1.64\\1.3 1.65\\1.38 1.67\\1.44 1.76\\1.48 1.50\\1.55 1.44\\1.65 1.40\\1.8 1.35\\2.0 1.32\\2.2 1.28\\2.4 1.26\\2.6 1.25\\};
\addlegendentry{AN with IS}
\addplot[bo] table[row sep=\\] {x y\\2.6 1.26\\2.8 1.27\\3.0 1.26\\3.2 1.26\\3.4 1.24\\3.6 1.24\\3.8 1.28\\4.0 1.32\\4.2 1.30\\4.4 1.28\\4.6 1.28\\4.8 1.27\\5.0 1.27\\5.2 1.27\\5.4 1.28\\5.6 1.26\\5.8 1.27\\6.0 1.26\\6.2 1.27\\6.4 1.28\\6.6 1.26\\6.8 1.29\\7.0 1.28\\7.1 1.29\\7.2 1.27\\7.3 1.30\\7.4 1.28\\7.5 1.31\\7.6 1.28\\7.7 1.30\\7.8 1.29\\7.9 1.33\\8.0 1.30\\8.1 1.32\\8.2 1.31\\8.3 1.36\\8.4 1.32\\8.5 1.34\\8.6 1.33\\8.7 1.38\\8.8 1.33\\8.9 1.36\\9.0 1.35\\9.1 1.40\\9.2 1.35\\9.3 1.38\\9.4 1.36\\9.5 1.42\\9.6 1.37\\9.7 1.40\\9.8 1.39\\9.9 1.45\\10.0 1.40\\10.1 1.44\\10.2 1.41\\10.3 1.49\\10.4 1.42\\10.5 1.46\\10.6 1.44\\10.7 1.51\\10.8 1.45\\10.9 1.54\\11.0 1.47\\11.1 1.51\\11.2 1.57\\11.3 1.50\\11.4 1.53\\11.5 1.70\\11.6 1.52\\11.7 1.57\\11.8 1.62\\11.9 1.54\\12.0 1.59\\12.1 1.57\\12.2 1.78\\12.3 1.60\\12.4 1.64\\12.5 1.68\\12.6 1.59\\12.7 1.65\\12.8 1.75\\12.9 1.63\\13.0 1.70\\13.1 1.85\\13.2 1.66\\13.3 1.73\\13.4 1.88\\13.5 1.69\\13.6 1.77\\13.7 1.81\\13.8 1.73\\13.9 1.95\\14.0 1.80\\14.1 1.88\\14.2 2.05\\14.3 1.84\\14.4 2.20\\14.5 1.90\\14.6 2.12\\14.7 1.96\\14.8 2.06\\14.9 1.98\\15.0 1.90\\
15.0 0.45\\14.9 0.32\\14.8 0.55\\14.7 0.30\\14.6 0.48\\14.5 0.40\\14.4 0.28\\14.3 0.52\\14.2 0.36\\14.1 0.50\\14.0 0.34\\13.9 0.56\\13.8 0.44\\13.7 0.54\\13.6 0.38\\13.5 0.62\\13.4 0.47\\13.3 0.58\\13.2 0.45\\13.1 0.66\\13.0 0.56\\12.9 0.63\\12.8 0.50\\12.7 0.70\\12.6 0.60\\12.5 0.73\\12.4 0.64\\12.3 0.78\\12.2 0.68\\12.1 0.76\\12.0 0.72\\11.9 0.80\\11.8 0.70\\11.7 0.83\\11.6 0.76\\11.5 0.85\\11.4 0.79\\11.3 0.87\\11.2 0.76\\11.1 0.88\\11.0 0.83\\10.9 0.90\\10.8 0.86\\10.7 0.92\\10.6 0.87\\10.5 0.93\\10.4 0.90\\10.3 0.96\\10.2 0.91\\10.1 0.97\\10.0 0.93\\9.9 0.96\\9.8 0.94\\9.7 0.99\\9.6 0.95\\9.5 1.00\\9.4 0.98\\9.3 1.01\\9.2 0.98\\9.1 1.03\\9.0 1.00\\8.9 1.04\\8.8 1.01\\8.7 1.05\\8.6 1.03\\8.5 1.06\\8.4 1.04\\8.3 1.07\\8.2 1.05\\8.1 1.08\\8.0 1.06\\7.9 1.09\\7.8 1.08\\7.7 1.10\\7.6 1.09\\7.5 1.11\\7.4 1.10\\7.3 1.12\\7.2 1.11\\7.1 1.13\\7.0 1.12\\6.8 1.14\\6.6 1.14\\6.4 1.15\\6.2 1.15\\6.0 1.16\\5.8 1.17\\5.6 1.18\\5.4 1.19\\5.2 1.20\\5.0 1.21\\4.8 1.21\\4.6 1.22\\4.4 1.23\\4.2 1.25\\4.0 1.27\\3.8 1.23\\3.6 1.21\\3.4 1.21\\3.2 1.22\\3.0 1.23\\2.8 1.23\\2.6 1.24\\};
\addplot[pg] table[row sep=\\] {x y\\0 0.0\\0.1 0.01\\0.2 0.04\\0.3 0.08\\0.4 0.14\\0.5 0.22\\0.6 0.31\\0.7 0.40\\0.8 0.50\\0.9 0.61\\1.0 0.72\\1.1 0.83\\1.2 0.93\\1.3 1.02\\1.4 1.10\\1.45 1.13\\1.49 1.06\\1.55 1.10\\1.63 1.16\\1.72 1.19\\1.82 1.21\\2.0 1.22\\2.2 1.23\\2.4 1.24\\2.6 1.24\\};
\addlegendentry{PCNT}
\addplot[bg] table[row sep=\\] {x y\\2.6 1.25\\2.8 1.26\\3.0 1.25\\3.2 1.25\\3.4 1.24\\3.6 1.24\\3.8 1.27\\4.0 1.30\\4.2 1.29\\4.4 1.27\\4.6 1.26\\4.8 1.25\\5.0 1.25\\5.2 1.25\\5.4 1.25\\5.6 1.24\\5.8 1.24\\6.0 1.23\\6.2 1.24\\6.4 1.24\\6.6 1.23\\6.8 1.24\\7.0 1.24\\7.1 1.25\\7.2 1.23\\7.3 1.25\\7.4 1.24\\7.5 1.26\\7.6 1.23\\7.7 1.25\\7.8 1.24\\7.9 1.27\\8.0 1.24\\8.1 1.26\\8.2 1.25\\8.3 1.28\\8.4 1.25\\8.5 1.27\\8.6 1.26\\8.7 1.29\\8.8 1.25\\8.9 1.28\\9.0 1.27\\9.1 1.30\\9.2 1.27\\9.3 1.29\\9.4 1.28\\9.5 1.32\\9.6 1.28\\9.7 1.30\\9.8 1.30\\9.9 1.34\\10.0 1.31\\10.1 1.33\\10.2 1.32\\10.3 1.37\\10.4 1.32\\10.5 1.35\\10.6 1.34\\10.7 1.38\\10.8 1.35\\10.9 1.40\\11.0 1.37\\11.1 1.39\\11.2 1.43\\11.3 1.38\\11.4 1.41\\11.5 1.52\\11.6 1.41\\11.7 1.44\\11.8 1.47\\11.9 1.42\\12.0 1.46\\12.1 1.44\\12.2 1.56\\12.3 1.46\\12.4 1.49\\12.5 1.52\\12.6 1.46\\12.7 1.50\\12.8 1.56\\12.9 1.49\\13.0 1.53\\13.1 1.66\\13.2 1.51\\13.3 1.56\\13.4 1.64\\13.5 1.54\\13.6 1.59\\13.7 1.62\\13.8 1.57\\13.9 1.70\\14.0 1.62\\14.1 1.66\\14.2 1.74\\14.3 1.64\\14.4 1.80\\14.5 1.67\\14.6 1.76\\14.7 1.70\\14.8 1.74\\14.9 1.70\\15.0 1.66\\
15.0 0.80\\14.9 0.70\\14.8 0.86\\14.7 0.66\\14.6 0.80\\14.5 0.74\\14.4 0.62\\14.3 0.82\\14.2 0.70\\14.1 0.80\\14.0 0.68\\13.9 0.84\\13.8 0.76\\13.7 0.83\\13.6 0.71\\13.5 0.88\\13.4 0.78\\13.3 0.86\\13.2 0.76\\13.1 0.90\\13.0 0.84\\12.9 0.88\\12.8 0.80\\12.7 0.92\\12.6 0.85\\12.5 0.94\\12.4 0.88\\12.3 0.96\\12.2 0.90\\12.1 0.95\\12.0 0.93\\11.9 0.97\\11.8 0.91\\11.7 0.99\\11.6 0.95\\11.5 1.00\\11.4 0.97\\11.3 1.01\\11.2 0.95\\11.1 1.02\\11.0 0.99\\10.9 1.03\\10.8 1.01\\10.7 1.04\\10.6 1.01\\10.5 1.05\\10.4 1.03\\10.3 1.06\\10.2 1.03\\10.1 1.07\\10.0 1.04\\9.9 1.06\\9.8 1.05\\9.7 1.07\\9.6 1.05\\9.5 1.08\\9.4 1.06\\9.3 1.08\\9.2 1.06\\9.1 1.09\\9.0 1.07\\8.9 1.09\\8.8 1.08\\8.7 1.10\\8.6 1.09\\8.5 1.11\\8.4 1.10\\8.3 1.11\\8.2 1.10\\8.1 1.12\\8.0 1.11\\7.9 1.12\\7.8 1.12\\7.7 1.13\\7.6 1.12\\7.5 1.14\\7.4 1.13\\7.3 1.14\\7.2 1.13\\7.1 1.15\\7.0 1.14\\6.8 1.15\\6.6 1.16\\6.4 1.16\\6.2 1.17\\6.0 1.17\\5.8 1.18\\5.6 1.19\\5.4 1.20\\5.2 1.21\\5.0 1.22\\4.8 1.22\\4.6 1.23\\4.4 1.24\\4.2 1.26\\4.0 1.28\\3.8 1.24\\3.6 1.22\\3.4 1.22\\3.2 1.23\\3.0 1.23\\2.8 1.24\\2.6 1.24\\};
\end{axis}

% ---------------- backscatter
\begin{axis}[mpl, tr, name=ax4, at={(54.6pt,-567.7pt)}, xmin=0, xmax=15, ymin=0, ymax=2,
  xtick={0,2,...,14}, ytick={0,0.5,1,1.5,2},
  yticklabel style={/pgf/number format/.cd, fixed, fixed zerofill, precision=1},
  xlabel={Height [km]},
  ylabel={{\itf β}\textsuperscript{Aer} [{\itf m}\textsuperscript{−1}{\itf sr}\textsuperscript{−1}]}]
\addplot[pb] table[row sep=\\] {x y\\0.07 1.00\\0.1 0.95\\0.14 0.88\\0.17 0.84\\0.2 0.73\\0.23 0.52\\0.25 0.32\\0.28 0.22\\0.3 0.18\\0.33 0.20\\0.36 0.16\\0.39 0.22\\0.41 0.30\\0.45 0.55\\0.48 0.80\\0.51 0.88\\0.54 0.91\\0.6 1.03\\0.67 1.18\\0.72 1.30\\0.74 1.36\\0.77 1.56\\0.8 1.75\\0.83 1.62\\0.86 1.43\\0.9 1.26\\0.93 1.06\\0.96 0.88\\1.0 0.85\\1.06 0.83\\1.12 0.82\\1.19 0.81\\1.25 0.80\\1.31 0.77\\1.36 0.80\\1.41 0.88\\1.44 0.93\\1.47 0.77\\1.49 0.52\\1.55 0.50\\1.63 0.51\\1.7 0.46\\1.82 0.42\\1.9 0.40\\2.0 0.39\\2.1 0.35\\2.2 0.32\\2.35 0.29\\2.5 0.28\\};
\addlegendentry{AN}
\addplot[bb] table[row sep=\\] {x y\\2.5 0.29\\2.6 0.30\\2.7 0.28\\2.8 0.30\\2.9 0.28\\3.0 0.29\\3.1 0.27\\3.2 0.28\\3.3 0.26\\3.4 0.26\\3.5 0.24\\3.6 0.26\\3.7 0.25\\3.8 0.28\\3.9 0.28\\4.0 0.31\\4.1 0.29\\4.2 0.30\\4.3 0.27\\4.4 0.28\\4.5 0.25\\4.6 0.26\\4.7 0.24\\4.8 0.25\\4.9 0.22\\5.0 0.24\\5.1 0.22\\5.2 0.23\\5.3 0.21\\5.4 0.23\\5.5 0.21\\5.6 0.22\\5.7 0.20\\5.8 0.23\\5.9 0.21\\6.0 0.22\\6.1 0.20\\6.2 0.23\\6.3 0.19\\6.4 0.21\\6.5 0.20\\6.6 0.22\\6.7 0.18\\6.8 0.21\\6.9 0.19\\7.0 0.20\\7.1 0.17\\7.2 0.20\\7.3 0.18\\7.4 0.21\\7.5 0.18\\7.6 0.20\\7.7 0.19\\7.8 0.22\\7.9 0.18\\8.0 0.23\\8.1 0.19\\8.2 0.21\\8.3 0.18\\8.4 0.22\\8.5 0.20\\8.6 0.21\\8.7 0.18\\8.8 0.23\\8.9 0.19\\9.0 0.21\\9.1 0.19\\9.2 0.22\\9.3 0.20\\9.4 0.24\\9.5 0.19\\9.6 0.22\\9.7 0.20\\9.8 0.23\\9.9 0.19\\10.0 0.22\\10.1 0.20\\10.2 0.25\\10.3 0.20\\10.4 0.23\\10.5 0.19\\10.6 0.25\\10.7 0.21\\10.8 0.23\\10.9 0.20\\11.0 0.26\\11.1 0.21\\11.2 0.24\\11.3 0.20\\11.4 0.27\\11.5 0.22\\11.6 0.33\\11.7 0.22\\11.8 0.25\\11.9 0.21\\12.0 0.27\\12.1 0.22\\12.2 0.37\\12.3 0.23\\12.4 0.26\\12.5 0.21\\12.6 0.28\\12.7 0.23\\12.8 0.26\\12.9 0.22\\13.0 0.29\\13.1 0.23\\13.2 0.27\\13.3 0.24\\13.4 0.34\\13.5 0.22\\13.6 0.28\\13.7 0.24\\13.8 0.30\\13.9 0.23\\14.0 0.36\\14.1 0.25\\14.2 0.31\\14.3 0.24\\14.4 0.38\\14.5 0.26\\14.6 0.32\\14.7 0.25\\14.8 0.30\\14.9 0.26\\15.0 0.31\\
15.0 0.0\\7.3 0.0\\7.1 0.0\\7.0 0.06\\6.75 0.09\\6.5 0.10\\6.25 0.11\\6.0 0.12\\5.75 0.13\\5.5 0.14\\5.25 0.15\\5.0 0.16\\4.75 0.18\\4.5 0.20\\4.25 0.23\\4.0 0.26\\3.75 0.23\\3.5 0.20\\3.25 0.22\\3.0 0.24\\2.75 0.25\\2.5 0.26\\};
\addplot[po] table[row sep=\\] {x y\\0.06 1.31\\0.07 1.00\\0.1 0.95\\0.14 0.89\\0.17 0.86\\0.2 0.74\\0.23 0.55\\0.25 0.35\\0.28 0.27\\0.3 0.22\\0.33 0.24\\0.36 0.19\\0.39 0.25\\0.41 0.32\\0.45 0.55\\0.48 0.79\\0.51 0.87\\0.54 0.89\\0.6 1.02\\0.67 1.16\\0.72 1.28\\0.74 1.33\\0.77 1.52\\0.8 1.70\\0.83 1.58\\0.86 1.40\\0.9 1.24\\0.93 1.05\\0.96 0.86\\1.0 0.82\\1.06 0.80\\1.12 0.79\\1.19 0.78\\1.25 0.76\\1.31 0.74\\1.36 0.78\\1.41 0.86\\1.44 0.91\\1.47 0.75\\1.49 0.50\\1.55 0.48\\1.63 0.49\\1.7 0.44\\1.82 0.40\\1.9 0.38\\2.0 0.37\\2.1 0.33\\2.2 0.30\\2.35 0.28\\2.5 0.27\\};
\addlegendentry{AN with IS}
\addplot[bo] table[row sep=\\] {x y\\2.5 0.28\\2.6 0.29\\2.7 0.27\\2.8 0.29\\2.9 0.27\\3.0 0.28\\3.1 0.26\\3.2 0.27\\3.3 0.25\\3.4 0.25\\3.5 0.23\\3.6 0.25\\3.7 0.24\\3.8 0.27\\3.9 0.27\\4.0 0.30\\4.1 0.28\\4.2 0.29\\4.3 0.26\\4.4 0.27\\4.5 0.24\\4.6 0.25\\4.7 0.23\\4.8 0.24\\4.9 0.21\\5.0 0.23\\5.1 0.21\\5.2 0.22\\5.3 0.20\\5.4 0.21\\5.5 0.20\\5.6 0.20\\5.7 0.19\\5.8 0.21\\5.9 0.19\\6.0 0.20\\6.1 0.18\\6.2 0.21\\6.3 0.17\\6.4 0.19\\6.5 0.18\\6.6 0.19\\6.7 0.16\\6.8 0.19\\6.9 0.17\\7.0 0.18\\7.1 0.15\\7.2 0.17\\7.3 0.16\\7.4 0.18\\7.5 0.15\\7.6 0.17\\7.7 0.16\\7.8 0.19\\7.9 0.15\\8.0 0.19\\8.1 0.16\\8.2 0.18\\8.3 0.15\\8.4 0.18\\8.5 0.17\\8.6 0.18\\8.7 0.15\\8.8 0.19\\8.9 0.16\\9.0 0.18\\9.1 0.15\\9.2 0.18\\9.3 0.16\\9.4 0.20\\9.5 0.15\\9.6 0.18\\9.7 0.16\\9.8 0.19\\9.9 0.15\\10.0 0.18\\10.1 0.16\\10.2 0.20\\10.3 0.16\\10.4 0.19\\10.5 0.15\\10.6 0.21\\10.7 0.16\\10.8 0.19\\10.9 0.16\\11.0 0.21\\11.1 0.16\\11.2 0.19\\11.3 0.15\\11.4 0.22\\11.5 0.17\\11.6 0.30\\11.7 0.17\\11.8 0.20\\11.9 0.16\\12.0 0.21\\12.1 0.17\\12.2 0.27\\12.3 0.17\\12.4 0.20\\12.5 0.16\\12.6 0.22\\12.7 0.17\\12.8 0.20\\12.9 0.16\\13.0 0.23\\13.1 0.17\\13.2 0.21\\13.3 0.18\\13.4 0.26\\13.5 0.16\\13.6 0.21\\13.7 0.18\\13.8 0.23\\13.9 0.17\\14.0 0.27\\14.1 0.18\\14.2 0.24\\14.3 0.18\\14.4 0.28\\14.5 0.19\\14.6 0.25\\14.7 0.18\\14.8 0.23\\14.9 0.19\\15.0 0.25\\
15.0 0.02\\7.2 0.03\\7.0 0.07\\6.75 0.10\\6.5 0.11\\6.25 0.12\\6.0 0.13\\5.75 0.14\\5.5 0.15\\5.25 0.16\\5.0 0.17\\4.75 0.19\\4.5 0.21\\4.25 0.24\\4.0 0.27\\3.75 0.24\\3.5 0.21\\3.25 0.23\\3.0 0.25\\2.75 0.26\\2.5 0.26\\};
\addplot[pg] table[row sep=\\] {x y\\1.35 -0.05\\1.38 0.05\\1.42 0.10\\1.47 0.15\\1.50 0.12\\1.54 0.07\\1.60 0.13\\1.67 0.17\\1.75 0.18\\1.82 0.21\\1.90 0.22\\2.0 0.27\\2.05 0.26\\2.1 0.25\\2.2 0.26\\2.35 0.27\\2.5 0.26\\};
\addlegendentry{PCNT}
\addplot[bg] table[row sep=\\] {x y\\2.5 0.27\\2.7 0.27\\2.9 0.26\\3.1 0.25\\3.3 0.24\\3.5 0.23\\3.7 0.24\\3.9 0.27\\4.1 0.28\\4.3 0.26\\4.5 0.23\\4.7 0.21\\4.9 0.20\\5.1 0.19\\5.3 0.18\\5.5 0.17\\5.7 0.17\\5.9 0.16\\6.1 0.16\\6.3 0.15\\6.5 0.15\\6.7 0.14\\6.9 0.15\\7.1 0.13\\7.3 0.14\\7.5 0.14\\7.7 0.13\\7.9 0.15\\8.1 0.13\\8.3 0.14\\8.5 0.13\\8.7 0.15\\8.9 0.13\\9.1 0.14\\9.3 0.13\\9.5 0.15\\9.7 0.12\\9.9 0.14\\10.1 0.13\\10.3 0.15\\10.5 0.12\\10.7 0.15\\10.9 0.13\\11.1 0.14\\11.3 0.13\\11.5 0.15\\11.7 0.13\\11.9 0.14\\12.1 0.13\\12.3 0.15\\12.5 0.13\\12.7 0.14\\12.9 0.15\\13.0 0.20\\13.1 0.14\\13.3 0.15\\13.5 0.13\\13.7 0.16\\13.9 0.14\\14.1 0.15\\14.3 0.16\\14.5 0.14\\14.7 0.17\\14.9 0.15\\15.0 0.16\\
15.0 0.03\\14.8 0.04\\14.6 0.02\\14.4 0.03\\14.2 0.04\\14.0 0.02\\13.8 0.04\\13.6 0.03\\13.4 0.02\\13.2 0.04\\13.0 0.03\\12.8 0.04\\12.6 0.02\\12.4 0.04\\12.2 0.03\\12.0 0.04\\11.8 0.03\\11.6 0.04\\11.4 0.02\\11.2 0.04\\11.0 0.03\\10.8 0.04\\10.6 0.03\\10.4 0.04\\10.2 0.03\\10.0 0.04\\9.8 0.04\\9.6 0.03\\9.4 0.05\\9.2 0.04\\9.0 0.05\\8.8 0.04\\8.6 0.05\\8.4 0.05\\8.2 0.04\\8.0 0.06\\7.8 0.05\\7.6 0.06\\7.4 0.07\\7.2 0.08\\7.0 0.09\\6.8 0.10\\6.6 0.10\\6.4 0.11\\6.2 0.12\\6.0 0.12\\5.8 0.13\\5.6 0.14\\5.4 0.15\\5.2 0.16\\5.0 0.17\\4.8 0.18\\4.6 0.20\\4.4 0.23\\4.2 0.25\\4.0 0.27\\3.8 0.24\\3.6 0.22\\3.4 0.22\\3.2 0.23\\3.0 0.24\\2.8 0.25\\2.6 0.25\\2.5 0.25\\};
\end{axis}
\node[anchor=south west, inner sep=0pt] at ([yshift=3pt]ax4.north west) {1e−6};
\end{tikzpicture}
\end{document}
